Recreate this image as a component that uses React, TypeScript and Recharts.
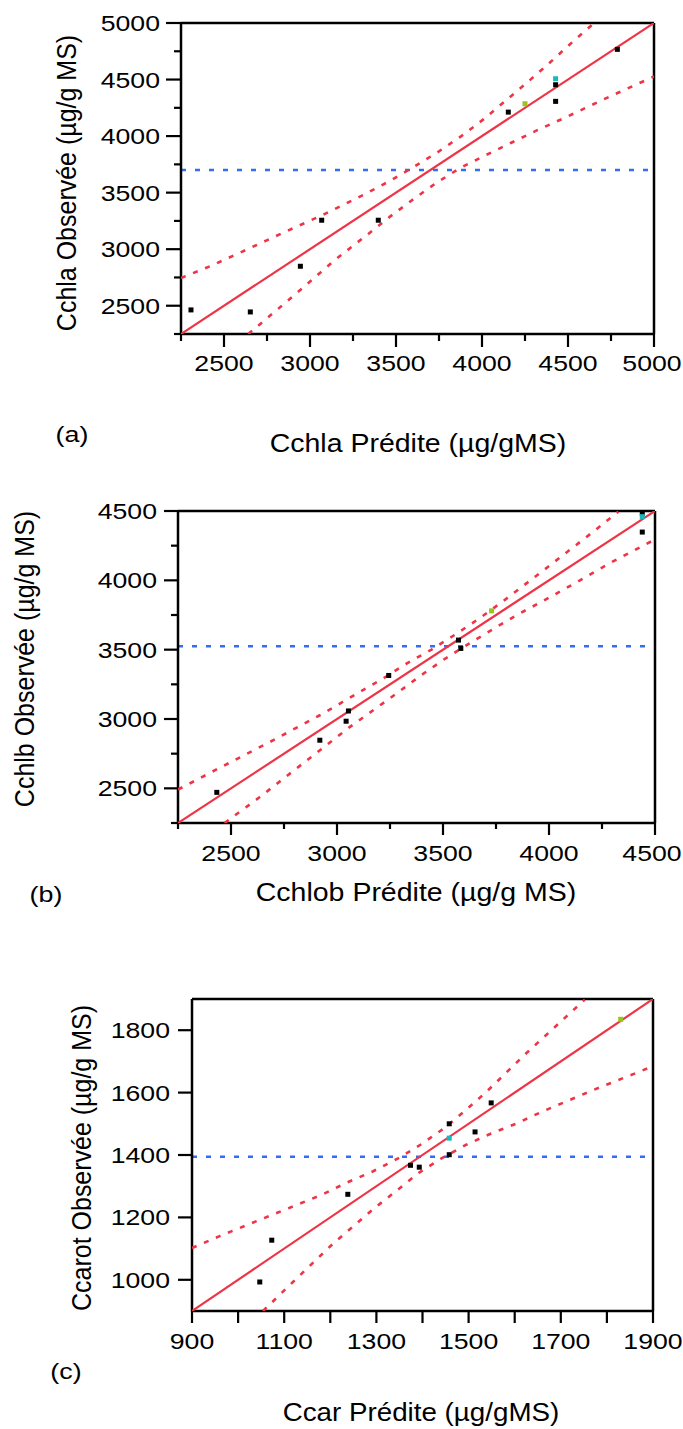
import React from 'react';
import { ScatterChart, Scatter, XAxis, YAxis, ReferenceLine } from 'recharts';

const FONT = '"Liberation Sans", Arial, Helvetica, sans-serif';
const RED = '#ee3447';
const BLUE = '#336cf5';
const GREEN = '#9bc31f';
const CYAN = '#1bb7bf';
const TICK_FS = 21.5;
const TICK_SX = 1.24;

// ---------------- Panel (a) ----------------
const aXTicks = [2250, 2500, 2750, 3000, 3250, 3500, 3750, 4000, 4250, 4500, 4750, 5000];
const aXLabels = [2500, 3000, 3500, 4000, 4500, 5000];
const aYTicks = [2250, 2500, 2750, 3000, 3250, 3500, 3750, 4000, 4250, 4500, 4750, 5000];
const aYLabels = [2500, 3000, 3500, 4000, 4500, 5000];
const aBlackX = [2308, 2653, 2944, 3068, 3397, 4153, 4428, 4428, 4787];
const aBlackY = [2463, 2445, 2849, 3256, 3256, 4212, 4454, 4307, 4767];
const aGreenX = [4250];
const aGreenY = [4286];
const aCyanX = [4428];
const aCyanY = [4507];
const aMean = 3700;
const aFitX = [2250, 5000];
const aFitY = [2250, 5000];
const aUpperX = [2250, 2420, 2630, 2865, 3070, 3310, 3460, 3600, 3740, 3880, 4010, 4260, 4380, 4510, 4650];
const aUpperY = [2745, 2850, 2995, 3160, 3300, 3480, 3600, 3725, 3855, 4000, 4150, 4470, 4630, 4810, 4998];
const aLowerX = [2641, 2770, 2960, 3145, 3339, 3465, 3601, 3737, 3872, 4017, 4173, 4327, 4500, 4700, 5000];
const aLowerY = [2250, 2415, 2660, 2905, 3135, 3288, 3442, 3589, 3717, 3828, 3943, 4056, 4175, 4320, 4527];

// ---------------- Panel (b) ----------------
const bXTicks = [2250, 2500, 2750, 3000, 3250, 3500, 3750, 4000, 4250, 4500];
const bXLabels = [2500, 3000, 3500, 4000, 4500];
const bYTicks = [2250, 2500, 2750, 3000, 3250, 3500, 3750, 4000, 4250, 4500];
const bYLabels = [2500, 3000, 3500, 4000, 4500];
const bBlackX = [2433, 2919, 3043, 3054, 3244, 3573, 3584, 4440, 4440];
const bBlackY = [2471, 2847, 2984, 3058, 3314, 3569, 3509, 4483, 4348];
const bGreenX = [3729];
const bGreenY = [3780];
const bCyanX = [4440];
const bCyanY = [4459];
const bMean = 3525;
const bFitX = [2250, 4500];
const bFitY = [2250, 4500];
const bUpperX = [2250, 2439, 2683, 2919, 3155, 3218, 3328, 3446, 3561, 3671, 3784, 3996, 4209, 4327];
const bUpperY = [2491, 2642, 2834, 3027, 3237, 3292, 3400, 3501, 3612, 3725, 3850, 4098, 4351, 4495];
const bLowerX = [2470, 2636, 2848, 3061, 3281, 3391, 3504, 3619, 3734, 3847, 3970, 4100, 4300, 4500];
const bLowerY = [2250, 2437, 2690, 2943, 3184, 3309, 3429, 3540, 3646, 3749, 3850, 3960, 4135, 4295];

// ---------------- Panel (c) ----------------
const cXTicks = [900, 1000, 1100, 1200, 1300, 1400, 1500, 1600, 1700, 1800, 1900];
const cXLabels = [900, 1100, 1300, 1500, 1700, 1900];
const cYTicks = [1000, 1200, 1400, 1600, 1800];
const cYLabels = [1000, 1200, 1400, 1600, 1800];
const cBlackX = [1047, 1073, 1238, 1374, 1393, 1458, 1458, 1514, 1549];
const cBlackY = [993, 1127, 1274, 1367, 1361, 1500, 1401, 1474, 1567];
const cGreenX = [1830];
const cGreenY = [1835];
const cCyanX = [1458];
const cCyanY = [1454];
const cMean = 1394;
const cFitX = [900, 1900];
const cFitY = [900, 1900];
const cUpperX = [900, 960, 1072, 1184, 1235, 1293, 1347, 1399, 1448, 1494, 1539, 1625, 1752];
const cUpperY = [1102, 1140, 1207, 1274, 1311, 1348, 1389, 1436, 1487, 1544, 1603, 1726, 1898];
const cLowerX = [1054, 1119, 1206, 1296, 1345, 1392, 1441, 1495, 1549, 1604, 1658, 1770, 1889];
const cLowerY = [900, 993, 1116, 1230, 1287, 1343, 1389, 1433, 1469, 1501, 1538, 1608, 1678];

type Pt = { x: number; y: number };
const zip = (xs: number[], ys: number[]): Pt[] => xs.map((x, i) => ({ x, y: ys[i] }));

const square = (color: string) => (p: any) => (
  <rect x={p.cx - 2.5} y={p.cy - 2.5} width={5} height={5} fill={color} />
);
const NoShape = () => <g />;

function XTick(props: any) {
  const { x, y, payload, labels, majorLen, minorLen, labelDy, shiftLast } = props;
  const v = payload.value;
  const major = labels.includes(v);
  const len = major ? majorLen : minorLen;
  const tx = v === labels[labels.length - 1] ? x - shiftLast : x;
  return (
    <g>
      <line x1={x} x2={x} y1={y} y2={y + len} stroke="#000" strokeWidth={2.2} />
      {major && (
        <text
          x={tx}
          y={y + labelDy}
          textAnchor="middle"
          fontFamily={FONT}
          fontSize={TICK_FS}
          fill="#000"
          transform={`translate(${tx} 0) scale(${TICK_SX} 1) translate(${-tx} 0)`}
        >
          {v}
        </text>
      )}
    </g>
  );
}

function YTick(props: any) {
  const { x, y, payload, labels, majorLen, minorLen, labelDx } = props;
  const v = payload.value;
  const major = labels.includes(v);
  const len = major ? majorLen : minorLen;
  const ax = x - labelDx;
  return (
    <g>
      <line x1={x - len} x2={x} y1={y} y2={y} stroke="#000" strokeWidth={2.2} />
      {major && (
        <text
          x={ax}
          y={y + 8}
          textAnchor="end"
          fontFamily={FONT}
          fontSize={TICK_FS}
          fill="#000"
          transform={`translate(${ax} 0) scale(${TICK_SX} 1) translate(${-ax} 0)`}
        >
          {v}
        </text>
      )}
    </g>
  );
}

type PanelProps = {
  top: number;
  height: number;
  margin: { top: number; left: number; right: number; bottom: number };
  xDomain: [number, number];
  yDomain: [number, number];
  xTicks: number[];
  xLabels: number[];
  yTicks: number[];
  yLabels: number[];
  xLen: [number, number];
  yLen: [number, number];
  xLabelDy: number;
  yLabelDx: number;
  shiftLast: number;
  black: Pt[];
  green: Pt[];
  cyan: Pt[];
  fit: Pt[];
  upper: Pt[];
  lower: Pt[];
  mean: number;
};

function Panel(p: PanelProps) {
  const dashed = { stroke: RED, strokeWidth: 2.6, strokeDasharray: '5 8' };
  const frame = { stroke: '#000', strokeWidth: 2.5 };
  return (
    <div style={{ position: 'absolute', left: 0, top: p.top }}>
      <ScatterChart width={683} height={p.height} margin={p.margin}>
        <XAxis
          type="number"
          dataKey="x"
          domain={p.xDomain}
          ticks={p.xTicks}
          interval={0}
          allowDataOverflow
          axisLine={frame}
          tickLine={false}
          tickSize={0}
          tickMargin={0}
          height={40}
          tick={(tp: any) => (
            <XTick {...tp} labels={p.xLabels} majorLen={p.xLen[0]} minorLen={p.xLen[1]} labelDy={p.xLabelDy} shiftLast={p.shiftLast} />
          )}
        />
        <YAxis
          type="number"
          dataKey="y"
          domain={p.yDomain}
          ticks={p.yTicks}
          interval={0}
          allowDataOverflow
          axisLine={frame}
          tickLine={false}
          tickSize={0}
          tickMargin={0}
          width={40}
          tick={(tp: any) => (
            <YTick {...tp} labels={p.yLabels} majorLen={p.yLen[0]} minorLen={p.yLen[1]} labelDx={p.yLabelDx} />
          )}
        />
        <ReferenceLine y={p.mean} stroke={BLUE} strokeWidth={2.5} strokeDasharray="5 9" />
        <Scatter data={p.upper} line={dashed} lineType="joint" shape={NoShape} isAnimationActive={false} legendType="none" />
        <Scatter data={p.lower} line={dashed} lineType="joint" shape={NoShape} isAnimationActive={false} legendType="none" />
        <Scatter data={p.fit} line={{ stroke: RED, strokeWidth: 2.2 }} lineType="joint" shape={NoShape} isAnimationActive={false} legendType="none" />
        <Scatter data={p.black} shape={square('#000')} isAnimationActive={false} legendType="none" />
        <Scatter data={p.green} shape={square(GREEN)} isAnimationActive={false} legendType="none" />
        <Scatter data={p.cyan} shape={square(CYAN)} isAnimationActive={false} legendType="none" />
        <ReferenceLine y={p.yDomain[1]} ifOverflow="visible" {...frame} />
        <ReferenceLine x={p.xDomain[1]} ifOverflow="visible" {...frame} />
      </ScatterChart>
    </div>
  );
}

function HTitle({ x, y, text, sx }: { x: number; y: number; text: string; sx: number }) {
  return (
    <text
      x={x}
      y={y}
      textAnchor="middle"
      fontFamily={FONT}
      fontSize={25}
      fill="#000"
      transform={`translate(${x} 0) scale(${sx} 1) translate(${-x} 0)`}
    >
      {text}
    </text>
  );
}

function VTitle({ x, y, text }: { x: number; y: number; text: string }) {
  return (
    <text
      x={0}
      y={0}
      textAnchor="middle"
      fontFamily={FONT}
      fontSize={25}
      fill="#000"
      transform={`translate(${x} ${y}) rotate(-90) scale(1 1.13)`}
    >
      {text}
    </text>
  );
}

function Letter({ x, y, text }: { x: number; y: number; text: string }) {
  return (
    <text
      x={x}
      y={y}
      textAnchor="middle"
      fontFamily={FONT}
      fontSize={22}
      fill="#000"
      transform={`translate(${x} 0) scale(1.22 1) translate(${-x} 0)`}
    >
      {text}
    </text>
  );
}

export default function App() {
  return (
    <div style={{ position: 'absolute', left: 0, top: 0, width: 683, height: 1429, background: '#fff', overflow: 'hidden' }}>
      <Panel
        top={0}
        height={480}
        margin={{ top: 23, left: 141, right: 29, bottom: 106 }}
        xDomain={[2250, 5000]}
        yDomain={[2250, 5000]}
        xTicks={aXTicks}
        xLabels={aXLabels}
        yTicks={aYTicks}
        yLabels={aYLabels}
        xLen={[13, 7]}
        yLen={[15, 7]}
        xLabelDy={37}
        yLabelDx={21}
        shiftLast={2}
        black={zip(aBlackX, aBlackY)}
        green={zip(aGreenX, aGreenY)}
        cyan={zip(aCyanX, aCyanY)}
        fit={zip(aFitX, aFitY)}
        upper={zip(aUpperX, aUpperY)}
        lower={zip(aLowerX, aLowerY)}
        mean={aMean}
      />
      <Panel
        top={480}
        height={480}
        margin={{ top: 31, left: 138, right: 28, bottom: 97 }}
        xDomain={[2250, 4500]}
        yDomain={[2250, 4500]}
        xTicks={bXTicks}
        xLabels={bXLabels}
        yTicks={bYTicks}
        yLabels={bYLabels}
        xLen={[12, 6]}
        yLen={[14, 7]}
        xLabelDy={38}
        yLabelDx={21}
        shiftLast={3}
        black={zip(bBlackX, bBlackY)}
        green={zip(bGreenX, bGreenY)}
        cyan={zip(bCyanX, bCyanY)}
        fit={zip(bFitX, bFitY)}
        upper={zip(bUpperX, bUpperY)}
        lower={zip(bLowerX, bLowerY)}
        mean={bMean}
      />
      <Panel
        top={960}
        height={469}
        margin={{ top: 39, left: 152, right: 30, bottom: 78 }}
        xDomain={[900, 1900]}
        yDomain={[900, 1900]}
        xTicks={cXTicks}
        xLabels={cXLabels}
        yTicks={cYTicks}
        yLabels={cYLabels}
        xLen={[12, 12]}
        yLen={[14, 14]}
        xLabelDy={38}
        yLabelDx={22}
        shiftLast={0}
        black={zip(cBlackX, cBlackY)}
        green={zip(cGreenX, cGreenY)}
        cyan={zip(cCyanX, cCyanY)}
        fit={zip(cFitX, cFitY)}
        upper={zip(cUpperX, cUpperY)}
        lower={zip(cLowerX, cLowerY)}
        mean={cMean}
      />
      <svg width={683} height={1429} style={{ position: 'absolute', left: 0, top: 0, pointerEvents: 'none' }}>
        <VTitle x={76} y={183} text="Cchla Observée (µg/g MS)" />
        <VTitle x={34} y={659} text="Cchlb Observée (µg/g MS)" />
        <VTitle x={91} y={1158} text="Ccarot Observée (µg/g MS)" />
        <HTitle x={418} y={452} text="Cchla Prédite (µg/gMS)" sx={1.14} />
        <HTitle x={416} y={901} text="Cchlob Prédite (µg/g MS)" sx={1.14} />
        <HTitle x={421} y={1421} text="Ccar Prédite (µg/gMS)" sx={1.11} />
        <Letter x={72} y={442} text="(a)" />
        <Letter x={46} y={902} text="(b)" />
        <Letter x={66} y={1379} text="(c)" />
      </svg>
    </div>
  );
}
